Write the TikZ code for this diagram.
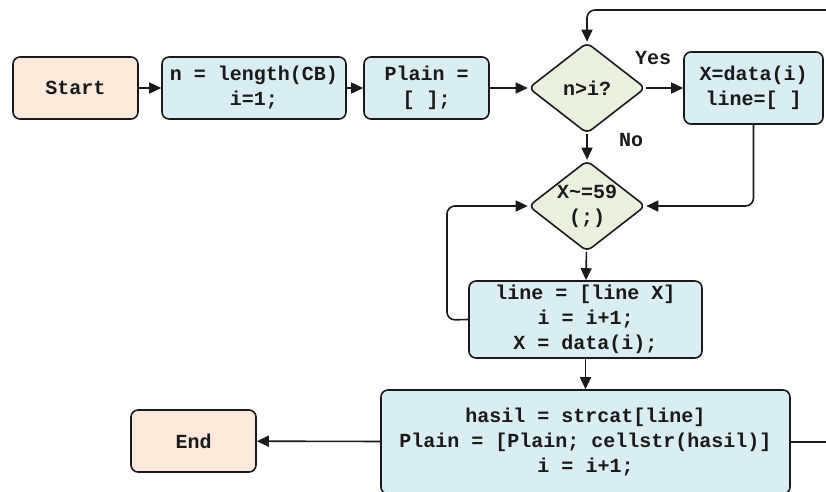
\documentclass[tikz,border=0pt]{standalone}
\usepackage{fontspec}
\setmonofont{Liberation Mono}
\usetikzlibrary{shapes.geometric,arrows.meta}
\definecolor{peach}{HTML}{FCE9DB}
\definecolor{procblue}{HTML}{DAEDF3}
\definecolor{decgreen}{HTML}{EAF0DE}
\definecolor{linec}{HTML}{1A1A1A}
\definecolor{textc}{HTML}{1A1A1A}
\tikzset{
  base/.style={draw=linec, line width=1.6pt, rounded corners=7pt,
    font=\ttfamily\bfseries\fontsize{20}{25}\selectfont, align=center,
    inner sep=0pt, text=textc},
  term/.style={base, fill=peach, minimum width=125pt, minimum height=62pt},
  proc/.style={base, fill=procblue},
  dec/.style={base, shape=diamond, fill=decgreen, aspect=1.286,
    minimum width=117pt, minimum height=91pt, rounded corners=6pt},
  conn/.style={line width=1.6pt, draw=linec,
    -{Triangle[length=12pt,width=11pt]}, rounded corners=8pt},
  lbl/.style={font=\ttfamily\bfseries\fontsize{20}{25}\selectfont, text=textc, inner sep=0pt}
}
\begin{document}
\begin{tikzpicture}[x=1pt,y=-1pt]
\clip (0,0) rectangle (826,491);
\fill[white] (0,0) rectangle (826,491);
\node[term] (start) at (75.5,88) {Start};
\node[proc, minimum width=184pt, minimum height=62pt] (nlen) at (254,88) {n = length(CB)\\i=1;};
\node[proc, minimum width=125pt, minimum height=62pt] (plain) at (426.5,88) {Plain =\\{[} ];};
\node[dec] (d1) at (587,88) {n>i?};
\node[proc, minimum width=139pt, minimum height=72pt] (xdata) at (753.5,88) {X=data(i)\\line=[ ]};
\node[dec] (d2) at (587,206) {X\textasciitilde=59\\(;)};
\node[proc, minimum width=233pt, minimum height=77pt] (loopbox) at (585.5,319.5) {line = [line X]\\i = i+1;\\X = data(i);};
\node[proc, minimum width=409pt, minimum height=104pt] (final) at (585.5,442) {hasil = strcat[line]\\Plain = [Plain; cellstr(hasil)]\\i = i+1;};
\node[term] (endn) at (193.5,441) {End};
\node[lbl] (yes) at (653,58) {Yes};
\node[lbl] (no) at (631,140) {No};
\coordinate (lft) at (447,320);
\coordinate (rtop) at (850,10);
\draw[conn] (start) -- (nlen);
\draw[conn] (nlen) -- (plain);
\draw[conn] (plain) -- (d1);
\draw[conn] (d1) -- (xdata);
\draw[conn] (d1) -- (d2);
\draw[conn] (xdata.south) |- (d2.east);
\draw[conn] (d2) -- (loopbox);
\draw[conn] (loopbox.west) -- (lft) |- (d2.west);
\draw[conn] (loopbox) -- (final);
\draw[conn] (final) -- (endn);
\draw[conn] (final.east) -| (rtop) -| (d1.north);
\end{tikzpicture}
\end{document}
